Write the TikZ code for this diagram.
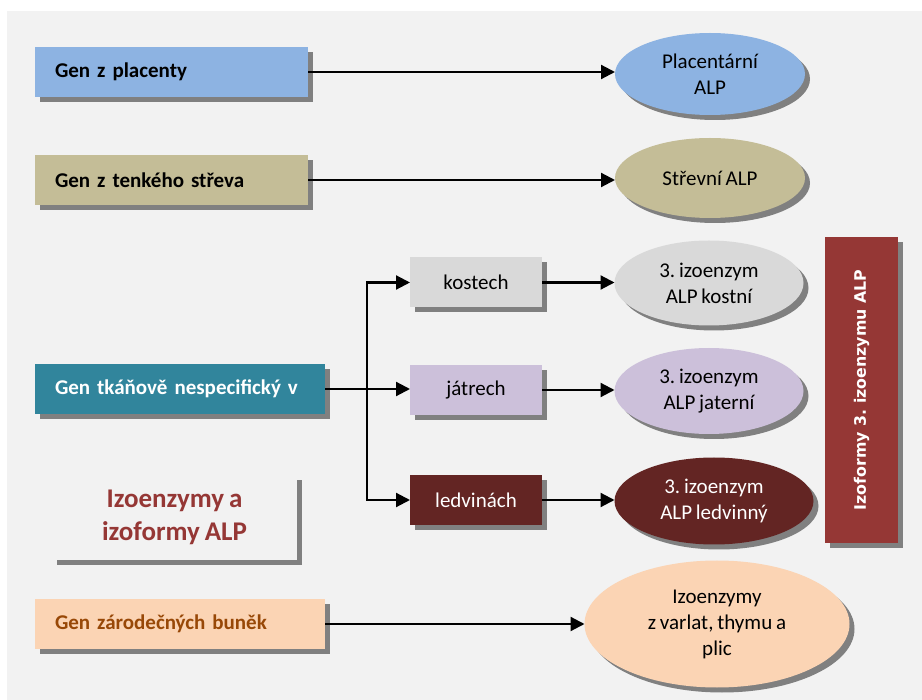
\documentclass[tikz,border=0pt]{standalone}
\usepackage{fontspec}
\setmainfont{Carlito}[WordSpace=0.8]
\newfontfamily\dejavu{DejaVu Sans}
\usetikzlibrary{shapes.geometric,shadows,arrows.meta}
\definecolor{bg}{HTML}{F2F2F2}
\definecolor{shd}{HTML}{808080}
\definecolor{cblue}{HTML}{8DB3E2}
\definecolor{ctan}{HTML}{C4BD97}
\definecolor{cgray}{HTML}{D9D9D9}
\definecolor{clil}{HTML}{CCC0DA}
\definecolor{cbrown}{HTML}{632523}
\definecolor{cteal}{HTML}{31859C}
\definecolor{cred}{HTML}{953735}
\definecolor{cpeach}{HTML}{FBD4B4}
\definecolor{corange}{HTML}{984807}
\frenchspacing
\tikzset{
  shad/.style={drop shadow={shadow xshift=5pt,shadow yshift=-5pt,fill=shd,opacity=1}},
  gbox/.style={rectangle,shad,inner ysep=0pt,inner xsep=20pt,outer sep=0pt,
    minimum height=50pt,align=left,font=\fontsize{21}{25}\selectfont\bfseries},
  tbox/.style={rectangle,shad,inner sep=0pt,outer sep=0pt,minimum width=132pt,
    minimum height=50pt,align=center,font=\fontsize{21}{25}\selectfont},
  oval/.style={ellipse,shad,inner sep=0pt,outer sep=0pt,align=center,
    font=\fontsize{21}{26}\selectfont},
  conn/.style={line width=2.2pt,-{Triangle[length=14pt,width=14pt]}},
}
\begin{document}
\begin{tikzpicture}[x=1pt,y=-1pt]
\useasboundingbox (0,0) rectangle (922,700);
\fill[white] (0,0) rectangle (922,700);
\fill[bg] (7,11) rectangle (922,700);

% left gene boxes
\node[gbox,fill=cblue,text width=233pt] (plac) at (171.5,72) {Gen z placenty};
\node[gbox,fill=ctan,text width=233pt] (strevo) at (171.5,180) {Gen z tenkého střeva};
\node[gbox,fill=cteal,text=white,text width=250pt] (tkan) at (180,389) {Gen tkáňově nespecifický v};
\node[gbox,fill=cpeach,text=corange,text width=250pt] (zarod) at (180,624) {Gen zárodečných buněk};

% tissue boxes
\node[tbox,fill=cgray] (kost) at (476,282.5) {kostech};
\node[tbox,fill=clil] (jatr) at (476,390) {játrech};
\node[tbox,fill=cbrown,text=white] (ledv) at (476,500) {ledvinách};

% ellipses
\node[oval,fill=cblue,minimum width=190pt,minimum height=82pt] (eplac) at (710,74) {Placentární\\ALP};
\node[oval,fill=ctan,minimum width=190pt,minimum height=80pt] (estr) at (710,178) {Střevní ALP};
\node[oval,fill=cgray,minimum width=189pt,minimum height=85pt] (ekost) at (709,283) {3. izoenzym\\ALP kostní};
\node[oval,fill=clil,minimum width=189pt,minimum height=86pt] (ejatr) at (709,391) {3. izoenzym\\ALP jaterní};
\node[oval,fill=cbrown,text=white,minimum width=199pt,minimum height=87pt] (eledv) at (714,501) {3. izoenzym\\ALP ledvinný};
\node[oval,fill=cpeach,minimum width=265pt,minimum height=127pt] (evar) at (717,624) {Izoenzymy\\z varlat, thymu a\\plic};

% red vertical box
\node[rectangle,shad,fill=cred,inner sep=0pt,minimum width=73pt,minimum height=306pt] (izof) at (861.5,390) {};
\node[rotate=90,text=white,font=\dejavu\fontsize{15.8}{18}\selectfont\bfseries,inner sep=0pt] (izoft) at (izof.center) {Izoformy 3. izoenzymu ALP};

% title box
\node[rectangle,shad,fill=bg,inner sep=0pt,minimum width=245pt,minimum height=85pt,
  align=center,text=cred,font=\fontsize{27}{33}\selectfont\bfseries] (title) at (174.5,517.5) {Izoenzymy a\\izoformy ALP};

% connectors
\draw[conn] (plac.east) -- (plac.east -| eplac.west);
\draw[conn] (strevo.east) -- (strevo.east -| estr.west);
\draw[conn] (tkan.east) -- (tkan.east -| jatr.west);
\coordinate (br) at (367,389);
\draw[conn] (br) |- (kost.west);
\draw[conn] (br) |- (ledv.west);
\draw[conn] (kost.east) -- (kost.east -| ekost.west);
\draw[conn] (jatr.east) -- (jatr.east -| ejatr.west);
\draw[conn] (ledv.east) -- (ledv.east -| eledv.west);
\draw[conn] (zarod.east) -- (zarod.east -| evar.west);
\end{tikzpicture}
\end{document}
